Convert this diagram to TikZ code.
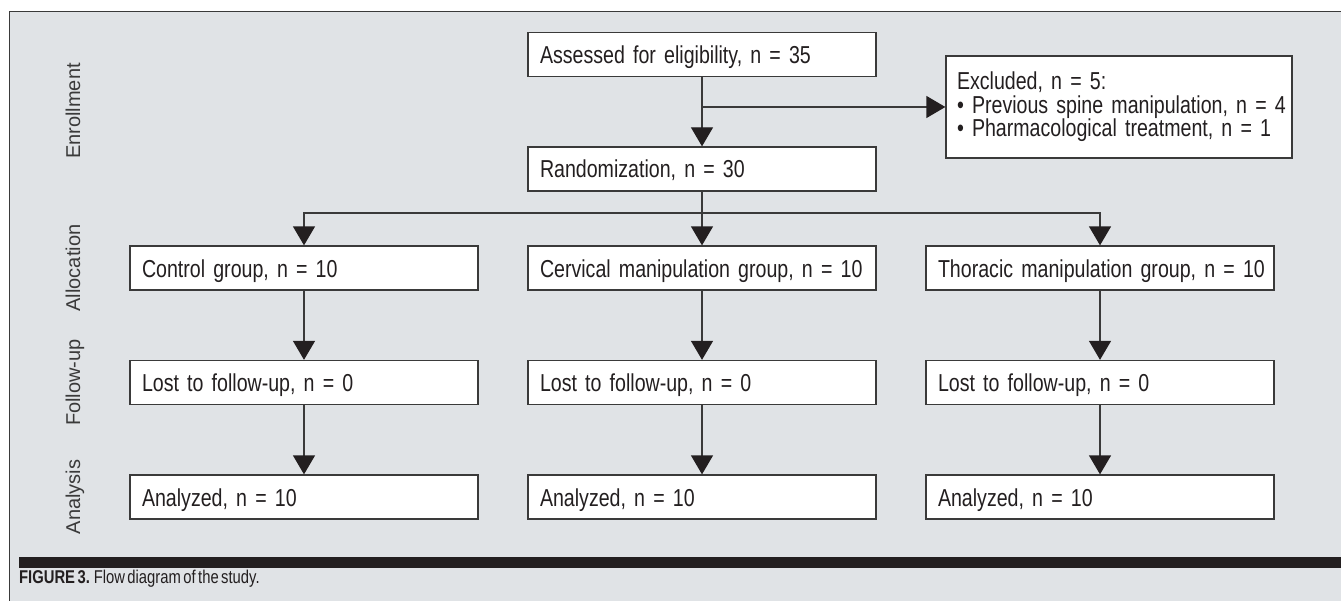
\documentclass[tikz,border=0pt]{standalone}
\usepackage{fontspec}
\setmainfont{Liberation Sans}[FakeStretch=0.80, WordSpace=0.6]
\newfontfamily\sidefont{Liberation Sans}
\usetikzlibrary{arrows.meta}
\definecolor{panel}{HTML}{E0E3E6}
\definecolor{ink}{HTML}{231F20}
\definecolor{edge}{HTML}{3A3A3A}
\begin{document}
\begin{tikzpicture}[x=1bp,y=-1bp,
  boxbase/.style={draw=edge, line width=1.3bp, fill=white, text=ink,
    inner ysep=0bp, align=left, font=\fontsize{24.5bp}{24bp}\selectfont},
  box/.style={boxbase, text width=324bp, inner xsep=12bp, minimum height=44bp,
    text height=18bp, text depth=0bp},
  arr/.style={draw=edge, line width=1.3bp,
    -{Triangle[width=22bp,length=19bp,fill=ink,color=ink]}},
  side/.style={rotate=90, anchor=base, text=edge, inner sep=0bp,
    font=\sidefont\fontsize{20bp}{24bp}\selectfont}]
\useasboundingbox (0,0) rectangle (1341,601);
% panel
\fill[panel] (9.5,11.5) rectangle (1341,601);
\draw[edge, line width=1.2bp] (9.5,601) -- (9.5,11.5) -- (1341,11.5);
\fill[ink] (19,557) rectangle (1341,568);
% side labels
\node[side] (lenr) at (80,111) {Enrollment};
\node[side] (lall) at (80,268) {Allocation};
\node[side] (lfol) at (80,382.5) {Follow-up};
\node[side] (lana) at (80,497) {Analysis};
% boxes
\node[box] (assess) at (702,54.5) {\mbox{Assessed for eligibility, n = 35}};
\node[box] (rand) at (702,169) {Randomization, n = 30};
\node[boxbase, text width=324bp, inner xsep=11bp, minimum height=102bp] (excl) at (1119,107)
  {Excluded, n = 5:\\[-0.5bp]
   \mbox{\textbullet{} Previous spine manipulation, n = 4}\\[-0.5bp]
   \mbox{\textbullet{} Pharmacological treatment, n = 1}};
\node[box] (ctrl) at (304,268) {Control group, n = 10};
\node[box] (cerv) at (702,268) {\mbox{Cervical manipulation group, n = 10}};
\node[box] (thor) at (1100,268) {\mbox{Thoracic manipulation group, n = 10}};
\node[box] (lost1) at (304,382.5) {Lost to follow-up, n = 0};
\node[box] (lost2) at (702,382.5) {Lost to follow-up, n = 0};
\node[box] (lost3) at (1100,382.5) {Lost to follow-up, n = 0};
\node[box] (ana1) at (304,497) {Analyzed, n = 10};
\node[box] (ana2) at (702,497) {Analyzed, n = 10};
\node[box] (ana3) at (1100,497) {Analyzed, n = 10};
% caption
\node[anchor=base west, inner sep=0bp, text=ink, font=\fontsize{18.5bp}{20bp}\selectfont]
  (cap) at (19,583) {\textbf{FIGURE 3.} Flow diagram of the study.};
% connectors
\draw[arr] (assess) -- (rand);
\coordinate (j1) at (assess.south |- excl.west);
\draw[arr] (j1) -- (excl.west);
\draw[arr] (rand) -- (cerv);
\coordinate (j2) at (702,213);
\draw[arr] (j2) -| (ctrl.north);
\draw[arr] (j2) -| (thor.north);
\draw[arr] (ctrl) -- (lost1);
\draw[arr] (cerv) -- (lost2);
\draw[arr] (thor) -- (lost3);
\draw[arr] (lost1) -- (ana1);
\draw[arr] (lost2) -- (ana2);
\draw[arr] (lost3) -- (ana3);
\end{tikzpicture}
\end{document}
